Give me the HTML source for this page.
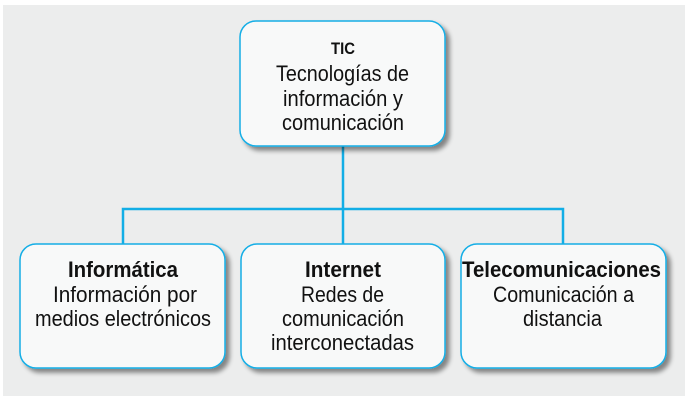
<!DOCTYPE html>
<html><head><meta charset="utf-8"><style>
html,body{margin:0;padding:0;background:#fff;width:689px;height:401px;overflow:hidden}
</style></head><body>
<svg width="689" height="401" xmlns="http://www.w3.org/2000/svg" font-family="'Liberation Sans Narrow','Liberation Sans',sans-serif">
<defs><filter id="s" x="-10%" y="-10%" width="130%" height="130%"><feGaussianBlur in="SourceAlpha" stdDeviation="2.5"/><feOffset dx="4" dy="4"/><feComponentTransfer><feFuncA type="linear" slope="0.45"/></feComponentTransfer><feMerge><feMergeNode/><feMergeNode in="SourceGraphic"/></feMerge></filter></defs>
<rect x="3" y="5" width="682" height="391" fill="#eceded"/>
<g stroke="#12aee6" stroke-width="2.5" fill="none">
<path d="M343 146 V244 M123 244 V209 H563 V244"/>
</g>
<g fill="#f8f9f9" stroke="#12aee6" stroke-width="1.5" filter="url(#s)">
<rect x="240" y="21" width="205" height="125" rx="16"/>
<rect x="20" y="244" width="205" height="124" rx="16"/>
<rect x="241" y="244" width="204" height="124" rx="16"/>
<rect x="461" y="244" width="205" height="124" rx="16"/>
</g>
<g fill="#111" font-size="22">
<text x="331" y="54" font-size="17" font-weight="bold" textLength="24" lengthAdjust="spacingAndGlyphs">TIC</text>
<text x="276" y="81" textLength="133" lengthAdjust="spacingAndGlyphs">Tecnologías de</text>
<text x="283" y="106" textLength="120" lengthAdjust="spacingAndGlyphs">información y</text>
<text x="282" y="130" textLength="122" lengthAdjust="spacingAndGlyphs">comunicación</text>

<text x="68" y="277" font-weight="bold" textLength="110" lengthAdjust="spacingAndGlyphs">Informática</text>
<text x="53" y="302" textLength="144" lengthAdjust="spacingAndGlyphs">Información por</text>
<text x="35" y="326" textLength="176" lengthAdjust="spacingAndGlyphs">medios electrónicos</text>

<text x="305" y="277" font-weight="bold" textLength="76" lengthAdjust="spacingAndGlyphs">Internet</text>
<text x="301" y="302" textLength="83" lengthAdjust="spacingAndGlyphs">Redes de</text>
<text x="282" y="326" textLength="122" lengthAdjust="spacingAndGlyphs">comunicación</text>
<text x="271" y="350" textLength="143" lengthAdjust="spacingAndGlyphs">interconectadas</text>

<text x="462" y="277" font-weight="bold" textLength="199" lengthAdjust="spacingAndGlyphs">Telecomunicaciones</text>
<text x="493" y="302" textLength="141" lengthAdjust="spacingAndGlyphs">Comunicación a</text>
<text x="523" y="326" textLength="79" lengthAdjust="spacingAndGlyphs">distancia</text>
</g>
</svg>
</body></html>
